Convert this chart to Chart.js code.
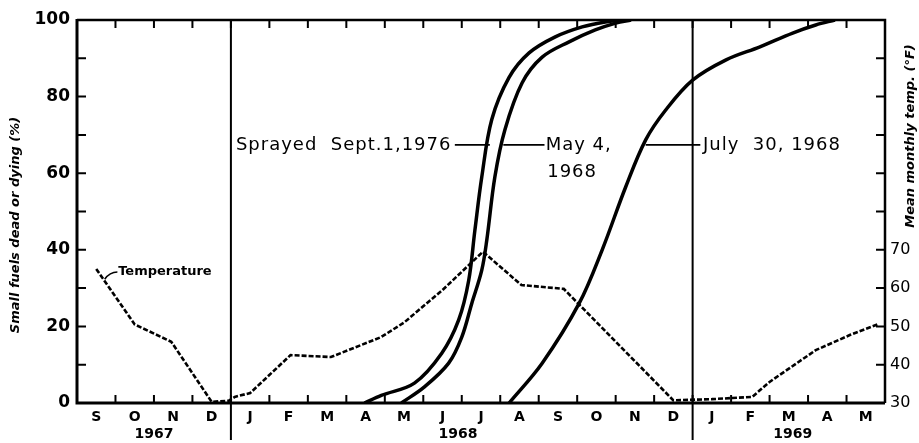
<!DOCTYPE html>
<html>
<head>
<meta charset="utf-8">
<script src="https://cdn.jsdelivr.net/npm/chart.js@4.4.0/dist/chart.umd.min.js"></script>
<style>
  body { margin: 0; background: #fff; }
</style>
</head>
<body>
<canvas id="myChart" width="919" height="443"></canvas>
<script>
// months from Sept 1967 to May 1969, one unit per month on the x axis
const monthLabels = ["S", "O", "N", "D", "J", "F", "M", "A", "M", "J", "J", "A", "S", "O", "N", "D", "J", "F", "M", "A", "M"];
const yearLabels = ["1967", "1968", "1969"];

// mean monthly temperature (deg F)
const tempMonth = [0.5, 1.5, 2.45, 3.5, 3.95, 4.1, 4.5, 5.55, 6.6, 7.9, 8.5, 9.5, 10.55, 11.55, 12.65, 15.5, 16.5, 17.55, 18.0, 19.2, 20.1, 20.8];
const tempF = [65, 50.5, 46, 30.3, 30.6, 31.6, 32.6, 42.5, 42, 47.2, 51, 59.5, 69.5, 60.8, 59.8, 30.7, 31, 31.6, 35.5, 43.8, 47.8, 50.5];

// small fuels dead or dying (%), one series per spray date
const sept67Month = [7.47, 7.91, 8.77, 9.48, 9.92, 10.18, 10.34, 10.52, 10.78, 11.23, 11.75, 12.43, 13.13, 13.73, 14.2];
const sept67Pct = [0, 2, 5.2, 13, 21.7, 32, 45, 59, 74, 85, 91.4, 95.6, 98.2, 99.5, 100];
const may68Month = [8.43, 9.03, 9.66, 10.0, 10.26, 10.52, 10.65, 10.86, 11.12, 11.57, 12.09, 12.79, 13.47, 14.0, 14.4];
const may68Pct = [0, 4.2, 10.4, 17.2, 26, 34.7, 42.5, 59, 71.3, 83.6, 90.3, 94.3, 97.4, 99.2, 100];
const jul68Month = [11.23, 12.09, 13.05, 13.65, 14.26, 14.78, 15.3, 16.0, 16.87, 17.75, 18.6, 19.2, 19.7];
const jul68Pct = [0, 10.4, 26, 40, 56.4, 68.7, 76.5, 84.3, 89.6, 93, 96.6, 98.7, 100];

const pctTicks = [0, 20, 40, 60, 80, 100];
const tempTicks = [30, 40, 50, 60, 70];
const tempBase = 30; // 30 F sits on the 0 % line

const FONT = '"DejaVu Sans", sans-serif';

const toPoints = (xs, ys) => xs.map((x, i) => ({ x: x, y: ys[i] }));

function curve(xs, ys) {
  return {
    data: toPoints(xs, ys),
    borderColor: "#000",
    borderWidth: 3.5,
    pointRadius: 0,
    tension: 0.35,
    yAxisID: "y",
  };
}

const extras = {
  id: "extras",
  afterDatasetsDraw(chart) {
    const ctx = chart.ctx;
    const a = chart.chartArea;
    const x = chart.scales.x;
    const y = chart.scales.y;
    const px = (v) => x.getPixelForValue(v);
    const py = (v) => y.getPixelForValue(v);
    ctx.save();
    ctx.strokeStyle = "#000";
    ctx.fillStyle = "#000";

    // frame
    ctx.lineWidth = 3;
    ctx.beginPath();
    ctx.moveTo(a.left, a.top - 1);
    ctx.lineTo(a.left, a.bottom);
    ctx.lineTo(a.right, a.bottom);
    ctx.stroke();
    ctx.lineWidth = 2.5;
    ctx.beginPath();
    ctx.moveTo(a.left, a.top);
    ctx.lineTo(a.right, a.top);
    ctx.lineTo(a.right, a.bottom);
    ctx.stroke();

    // inward ticks
    ctx.lineWidth = 2;
    ctx.beginPath();
    for (let i = 1; i < monthLabels.length; i++) {
      ctx.moveTo(px(i), a.bottom);
      ctx.lineTo(px(i), a.bottom - 8);
      ctx.moveTo(px(i), a.top);
      ctx.lineTo(px(i), a.top + 8);
    }
    for (let v = 10; v < 100; v += 10) {
      ctx.moveTo(a.left, py(v));
      ctx.lineTo(a.left + 9, py(v));
      ctx.moveTo(a.right, py(v));
      ctx.lineTo(a.right - 9, py(v));
    }
    ctx.stroke();

    // year dividers
    ctx.lineWidth = 2;
    ctx.beginPath();
    [4, 16].forEach((m) => {
      ctx.moveTo(px(m), a.top);
      ctx.lineTo(px(m), 440);
    });
    ctx.stroke();

    // year labels
    ctx.font = "bold 14px " + FONT;
    ctx.textAlign = "center";
    ctx.textBaseline = "middle";
    [2, 9.9, 18.6].forEach((m, i) => ctx.fillText(yearLabels[i], px(m), 434));

    // spray date labels with leaders
    ctx.font = "18px " + FONT;
    ctx.letterSpacing = "1px";
    ctx.textAlign = "left";
    ctx.lineWidth = 1.6;
    const ly = py(67.4);
    ctx.beginPath();
    ctx.moveTo(px(9.82), ly); ctx.lineTo(px(10.73), ly);
    ctx.moveTo(px(11.08), ly); ctx.lineTo(px(12.15), ly);
    ctx.moveTo(px(14.78), ly); ctx.lineTo(px(16.2), ly);
    ctx.stroke();
    ctx.fillText("Sprayed  Sept.1,1976", px(4.13), ly);
    ctx.fillText("May 4,", px(12.18), ly);
    ctx.fillText("1968", px(12.22), py(60.3));
    ctx.fillText("July  30, 1968", px(16.27), ly);
    ctx.letterSpacing = "0px";

    // temperature label
    ctx.font = "bold 13px " + FONT;
    ctx.beginPath();
    ctx.moveTo(px(0.72), py(32.3));
    ctx.quadraticCurveTo(px(0.85), py(34.2), px(1.05), py(34.2));
    ctx.stroke();
    ctx.fillText("Temperature", px(1.07), py(34.4));

    // axis titles, reading bottom to top
    ctx.font = "italic bold 13px " + FONT;
    ctx.textAlign = "center";
    ctx.save();
    ctx.translate(16, 225);
    ctx.rotate(-Math.PI / 2);
    ctx.fillText("Small fuels dead or dying (%)", 0, 0);
    ctx.restore();
    ctx.save();
    ctx.translate(911, 136);
    ctx.rotate(-Math.PI / 2);
    ctx.fillText("Mean monthly temp. (°F)", 0, 0);
    ctx.restore();

    ctx.restore();
  },
};

new Chart("myChart", {
  type: "line",
  data: {
    datasets: [
      {
        data: toPoints(tempMonth, tempF.map((t) => t - tempBase)),
        borderColor: "#000",
        borderWidth: 2.6,
        borderDash: [5, 2],
        pointRadius: 0,
        tension: 0,
        yAxisID: "y",
      },
      curve(sept67Month, sept67Pct),
      curve(may68Month, may68Pct),
      curve(jul68Month, jul68Pct),
    ],
  },
  options: {
    responsive: false,
    animation: false,
    devicePixelRatio: 1,
    layout: { padding: { top: 20, left: 0, right: 0, bottom: 0 } },
    plugins: {
      legend: { display: false },
      tooltip: { enabled: false },
    },
    scales: {
      x: {
        type: "linear",
        min: 0,
        max: monthLabels.length,
        grid: { display: false, drawTicks: false },
        border: { display: false },
        afterBuildTicks: (scale) => {
          scale.ticks = monthLabels.map((m, i) => ({ value: i + 0.5 }));
        },
        afterFit: (scale) => { scale.height = 40; },
        ticks: {
          autoSkip: false,
          maxRotation: 0,
          padding: 6,
          color: "#000",
          font: { family: FONT, size: 14, weight: "bold" },
          callback: (value, index) => monthLabels[index],
        },
      },
      y: {
        position: "left",
        min: 0,
        max: 100,
        grid: { display: false, drawTicks: false },
        border: { display: false },
        afterBuildTicks: (scale) => {
          scale.ticks = pctTicks.map((v) => ({ value: v }));
        },
        afterFit: (scale) => { scale.width = 77; },
        ticks: {
          padding: 7,
          color: "#000",
          font: { family: FONT, size: 17, weight: "bold" },
        },
      },
      y2: {
        position: "right",
        min: 0,
        max: 100,
        grid: { display: false, drawTicks: false },
        border: { display: false },
        afterBuildTicks: (scale) => {
          scale.ticks = tempTicks.map((t) => ({ value: t - tempBase }));
        },
        afterFit: (scale) => { scale.width = 34; },
        ticks: {
          padding: 5,
          color: "#000",
          font: { family: FONT, size: 16 },
          callback: (value) => value + tempBase,
        },
      },
    },
  },
  plugins: [extras],
});
</script>
</body>
</html>
